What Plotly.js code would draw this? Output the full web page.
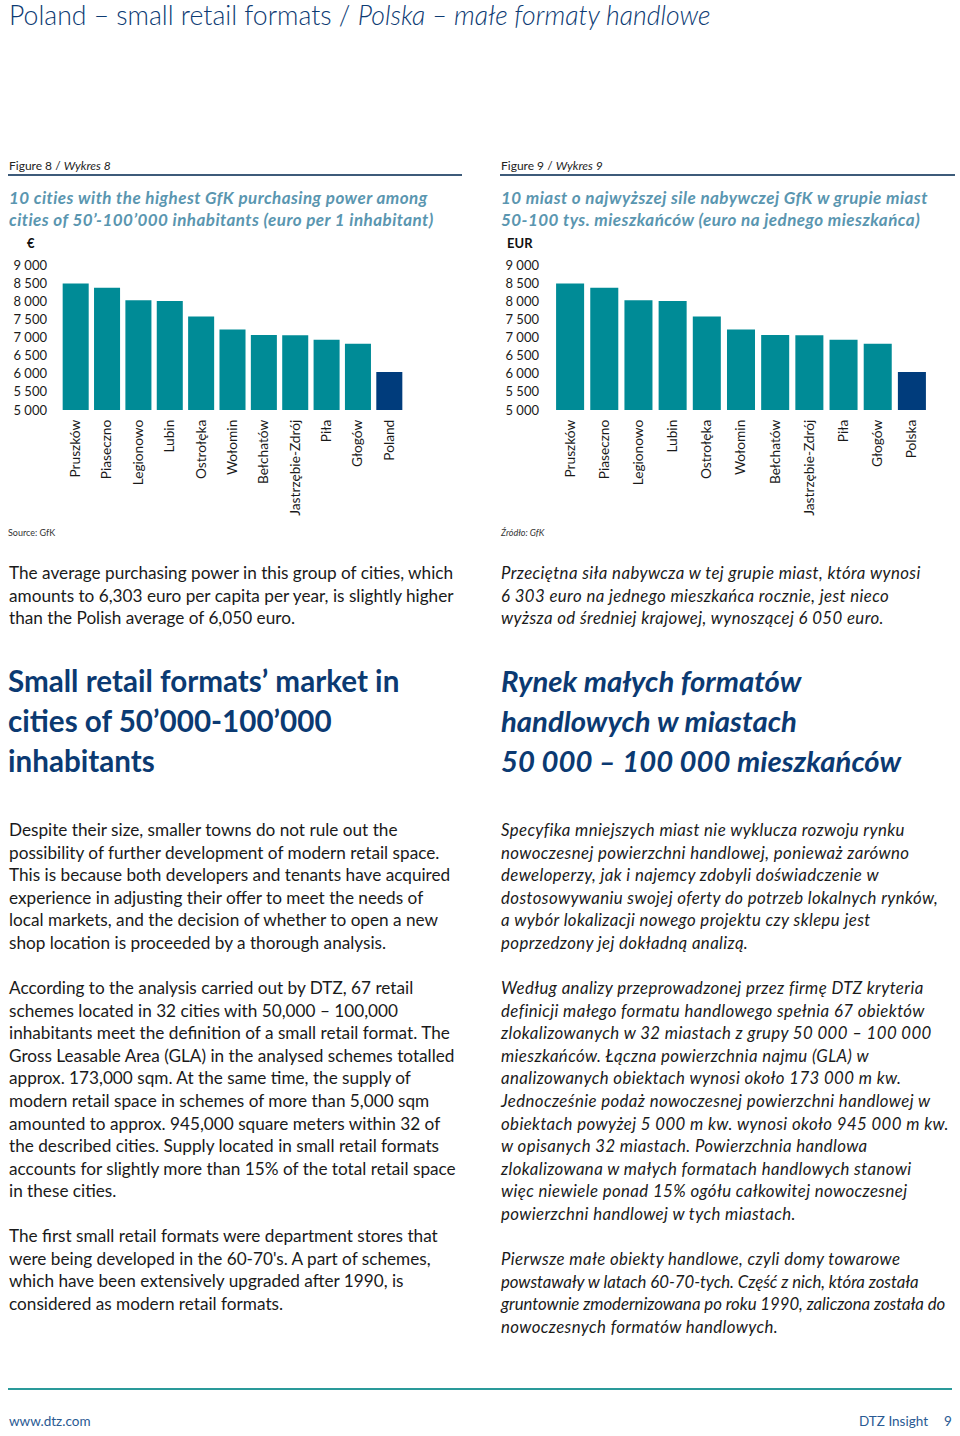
<!DOCTYPE html>
<html>
<head>
<meta charset="utf-8">
<script src="https://cdn.plot.ly/plotly-3.0.1.min.js"></script>
<style>
  html, body { margin:0; padding:0; background:#fff; }
  body { width:960px; height:1436px; position:relative; overflow:hidden; font-family: Lato, "Open Sans", sans-serif; color:#1a1a1a; }
  .abs { position:absolute; white-space:nowrap; }
  .title { left:9px; top:-2px; font-size:26.6px; font-weight:300; color:#0d3b73; line-height:34px; }
  .figlab { font-size:12px; color:#222; line-height:14px; }
  .rule { position:absolute; height:1.5px; background:#3d5b7a; }
  .sub { font-size:17px; font-weight:700; font-style:italic; color:#5a96b0; line-height:22px; letter-spacing:0.45px; }
  .unit { font-size:13px; font-weight:700; color:#111; }
  .src { font-size:9px; color:#333; }
  .body { font-size:17.2px; line-height:22.6px; color:#1a1a1a; }
  .it { font-style:italic; font-size:16.8px; letter-spacing:0.4px; }
  .tight { letter-spacing:-0.05px; }
  .head { font-size:29.6px; font-weight:700; color:#0b3a72; line-height:40px; }
  .headit { font-style:italic; font-size:29.3px; }
  .foot { font-size:13.5px; color:#2a5a93; }
  .chart { position:absolute; }
</style>
</head>
<body>
<div class="abs title">Poland – small retail formats / <i>Polska – małe formaty handlowe</i></div>

<div class="abs figlab" style="left:9px; top:159px;">Figure 8 / <i>Wykres 8</i></div>
<div class="rule" style="left:8px; width:454px; top:174px;"></div>
<div class="abs figlab" style="left:501px; top:159px;">Figure 9 / <i>Wykres 9</i></div>
<div class="rule" style="left:500px; width:455px; top:174px;"></div>

<div class="abs sub" style="left:9px; top:187px;">10 cities with the highest GfK purchasing power among<br>cities of 50’-100’000 inhabitants (euro per 1 inhabitant)</div>
<div class="abs sub" style="left:501px; top:187px;">10 miast o najwyższej sile nabywczej GfK w grupie miast<br>50-100 tys. mieszkańców (euro na jednego mieszkańca)</div>

<div class="abs unit" style="left:27px; top:235px;">€</div>
<div class="abs unit" style="left:507px; top:235px;">EUR</div>

<div id="chart1" class="chart" style="left:0px; top:250px; width:470px; height:280px;"></div>
<div id="chart2" class="chart" style="left:495px; top:250px; width:465px; height:280px;"></div>

<div class="abs src" style="left:8px; top:527px;">Source: GfK</div>
<div class="abs src" style="left:501px; top:527px; font-style:italic;">Źródło: GfK</div>

<div class="abs body" style="left:9px; top:562px;">The average purchasing power in this group of cities, which<br>amounts to 6,303 euro per capita per year, is slightly higher<br>than the Polish average of 6,050 euro.</div>
<div class="abs body it" style="left:501px; top:562px;">Przeciętna siła nabywcza w tej grupie miast, która wynosi<br>6 303 euro na jednego mieszkańca rocznie, jest nieco<br>wyższa od średniej krajowej, wynoszącej 6 050 euro.</div>

<div class="abs head" style="left:8px; top:661px;">Small retail formats’ market in<br>cities of 50’000-100’000<br>inhabitants</div>
<div class="abs head headit" style="left:501px; top:661px;">Rynek małych formatów<br>handlowych w miastach<br>50 000 – 100 000 mieszkańców</div>

<div class="abs body" style="left:9px; top:819px;">Despite their size, smaller towns do not rule out the<br>possibility of further development of modern retail space.<br>This is because both developers and tenants have acquired<br>experience in adjusting their offer to meet the needs of<br>local markets, and the decision of whether to open a new<br>shop location is proceeded by a thorough analysis.</div>
<div class="abs body" style="left:9px; top:977px;">According to the analysis carried out by DTZ, 67 retail<br>schemes located in 32 cities with 50,000 – 100,000<br>inhabitants meet the definition of a small retail format. The<br>Gross Leasable Area (GLA) in the analysed schemes totalled<br>approx. 173,000 sqm. At the same time, the supply of<br>modern retail space in schemes of more than 5,000 sqm<br>amounted to approx. 945,000 square meters within 32 of<br>the described cities. Supply located in small retail formats<br>accounts for slightly more than 15% of the total retail space<br>in these cities.</div>
<div class="abs body" style="left:9px; top:1225px;">The first small retail formats were department stores that<br>were being developed in the 60-70's. A part of schemes,<br>which have been extensively upgraded after 1990, is<br>considered as modern retail formats.</div>

<div class="abs body it" style="left:501px; top:819px;">Specyfika mniejszych miast nie wyklucza rozwoju rynku<br>nowoczesnej powierzchni handlowej, ponieważ zarówno<br>deweloperzy, jak i najemcy zdobyli doświadczenie w<br>dostosowywaniu swojej oferty do potrzeb lokalnych rynków,<br>a wybór lokalizacji nowego projektu czy sklepu jest<br>poprzedzony jej dokładną analizą.</div>
<div class="abs body it" style="left:501px; top:977px;">Według analizy przeprowadzonej przez firmę DTZ kryteria<br>definicji małego formatu handlowego spełnia 67 obiektów<br>zlokalizowanych w 32 miastach z grupy 50 000 – 100 000<br>mieszkańców. Łączna powierzchnia najmu (GLA) w<br>analizowanych obiektach wynosi około 173 000 m kw.<br>Jednocześnie podaż nowoczesnej powierzchni handlowej w<br>obiektach powyżej 5 000 m kw. wynosi około 945 000 m kw.<br>w opisanych 32 miastach. Powierzchnia handlowa<br>zlokalizowana w małych formatach handlowych stanowi<br>więc niewiele ponad 15% ogółu całkowitej nowoczesnej<br>powierzchni handlowej w tych miastach.</div>
<div class="abs body it" style="left:501px; top:1248px;">Pierwsze małe obiekty handlowe, czyli domy towarowe<br><span class="tight">powstawały w latach 60-70-tych. Część z nich, która została</span><br><span class="tight">gruntownie zmodernizowana po roku 1990, zaliczona została do</span><br>nowoczesnych formatów handlowych.</div>

<div class="rule" style="left:8px; width:944px; top:1388px; height:1.5px; background:#2a9a9a;"></div>
<div class="abs foot" style="left:9px; top:1413px;">www.dtz.com</div>
<div class="abs foot" style="left:859px; top:1413px;">DTZ Insight</div>
<div class="abs foot" style="left:944px; top:1413px;">9</div>

<script>
// Data
const citiesEN = ['Pruszków','Piaseczno','Legionowo','Lubin','Ostrołęka','Wołomin','Bełchatów','Jastrzębie-Zdrój','Piła','Głogów','Poland'];
const citiesPL = ['Pruszków','Piaseczno','Legionowo','Lubin','Ostrołęka','Wołomin','Bełchatów','Jastrzębie-Zdrój','Piła','Głogów','Polska'];
const purchasingPower = [8490, 8370, 8030, 8010, 7580, 7220, 7070, 7060, 6940, 6830, 6050];
const yTicks = [5000, 5500, 6000, 6500, 7000, 7500, 8000, 8500, 9000];

const TEAL = '#008b96';
const NAVY = '#003c7c';
const colors = purchasingPower.map((v, i) => i === purchasingPower.length - 1 ? NAVY : TEAL);

function makeChart(id, cats, marginL, marginR, gap, standoff) {
  const trace = {
    type: 'bar',
    x: cats,
    y: purchasingPower,
    marker: { color: colors },
    hoverinfo: 'none'
  };
  const layout = {
    width: parseInt(document.getElementById(id).style.width),
    height: 280,
    margin: { l: marginL, r: marginR, t: 15, b: 120, pad: 0 },
    paper_bgcolor: 'rgba(0,0,0,0)',
    plot_bgcolor: 'rgba(0,0,0,0)',
    separators: ', ',
    bargap: gap,
    font: { family: 'Lato, "Open Sans", sans-serif', size: 13, color: '#1a1a1a' },
    showlegend: false,
    xaxis: {
      type: 'category',
      tickangle: -90,
      tickfont: { size: 13.7, color: '#1a1a1a' },
      showline: false, showgrid: false, zeroline: false, ticks: '',
      ticklabelstandoff: 6
    },
    yaxis: {
      range: [5000, 9000],
      tickvals: yTicks,
      tickformat: ',d',
      tickfont: { size: 13, color: '#1a1a1a' },
      showline: false, showgrid: false, zeroline: false, ticks: '',
      ticklabelstandoff: standoff
    }
  };
  Plotly.newPlot(id, [trace], layout, { staticPlot: true, displayModeBar: false });
}

makeChart('chart1', citiesEN, 60, 65, 0.17, 12);
makeChart('chart2', citiesPL, 58, 31, 0.18, 13);
</script>
</body>
</html>
